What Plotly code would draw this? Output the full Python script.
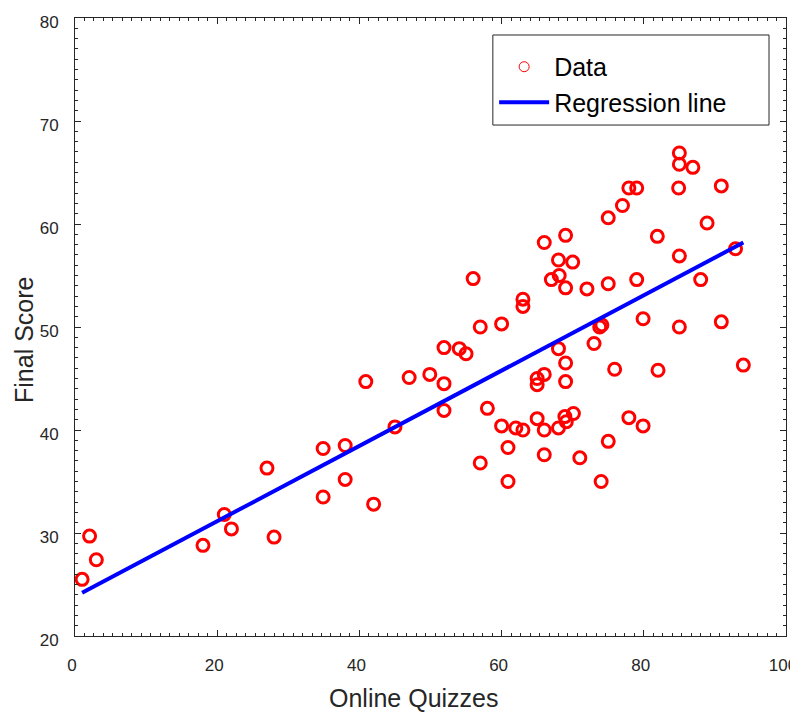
import plotly.graph_objects as go

# ---- data ----
quizzes = [1.0, 2.05, 3.0, 18.0, 21.0, 22.0, 27.0, 28.0, 34.9, 34.9,
           38.0, 38.0, 40.9, 42.0, 45.0, 47.0, 49.9, 51.9, 51.9, 51.9,
           54.05, 55.0, 56.0, 57.0, 57.0, 58.0, 60.0, 60.0, 60.9, 60.9,
           62.0, 63.0, 63.0, 63.0, 65.0, 65.0, 65.0, 66.0, 66.0, 66.0,
           66.0, 67.0, 68.1, 68.0, 68.0, 68.0, 69.0, 69.0, 69.0, 69.0,
           68.9, 69.1, 70.0, 70.1, 71.0, 72.0, 73.0, 73.8, 74.1, 74.0,
           75.0, 75.0, 75.0, 75.9, 77.0, 77.9, 79.0, 79.0, 77.9, 79.9,
           79.9, 81.9, 82.0, 85.0, 85.0, 84.9, 85.0, 85.0, 86.9, 88.0,
           88.9, 90.9, 90.9, 92.9, 94.0]
final_score = [25.5, 29.7, 27.4, 28.8, 31.8, 30.4, 36.3, 29.6, 38.2, 33.5,
               38.5, 35.2, 44.7, 32.8, 40.3, 45.1, 45.4, 44.5, 41.9, 48.0,
               47.9, 47.4, 54.7, 50.0, 36.8, 42.1, 50.3, 40.4, 38.3, 35.0,
               40.2, 52.7, 52.0, 40.0, 45.0, 44.4, 41.1, 58.2, 45.4, 40.0,
               37.6, 54.6, 55.0, 56.5, 47.9, 40.2, 58.9, 53.8, 46.5, 44.7,
               41.3, 40.8, 56.3, 41.6, 37.3, 53.7, 48.4, 50.0, 50.2, 35.0,
               60.6, 54.2, 38.9, 45.9, 61.8, 63.5, 63.5, 54.6, 41.2, 50.8,
               40.4, 58.8, 45.8, 66.9, 65.8, 63.5, 56.9, 50.0, 65.5, 54.6,
               60.1, 63.7, 50.5, 57.6, 46.3]

reg_x = [1.0, 94.0]
reg_y = [24.2, 58.2]

x_ticks = [0, 20, 40, 60, 80, 100]
y_ticks = [20, 30, 40, 50, 60, 70, 80]

x_title = "Online Quizzes"
y_title = "Final Score"

FONT = "Liberation Sans, Arial, sans-serif"
TXT = "#262626"
AX = "#262626"
RED = "#ff0000"
BLUE = "#0000ff"

fig = go.Figure()
fig.add_trace(go.Scatter(
    x=quizzes, y=final_score, mode="markers", name="Data",
    showlegend=False,
    marker=dict(symbol="circle-open", size=12, color=RED,
                line=dict(width=3, color=RED)),
))
# legend-only entry with the thin small circle used in the reference legend
fig.add_trace(go.Scatter(
    x=[None], y=[None], mode="markers", name="Data",
    marker=dict(symbol="circle-open", size=10, color=RED,
                line=dict(width=1, color=RED)),
))
fig.add_trace(go.Scatter(
    x=reg_x, y=reg_y, mode="lines", name="Regression line",
    line=dict(color=BLUE, width=4),
))

axis_common = dict(
    showgrid=False, zeroline=False, showline=True, linecolor=AX, linewidth=1,
    mirror="ticks", ticks="inside", ticklen=6, tickwidth=1, tickcolor=AX,
    tickfont=dict(family=FONT, size=17, color=TXT), automargin=False,
    ticklabeloverflow="allow",
)

fig.update_xaxes(
    range=[0, 100], tickvals=x_ticks, ticktext=[str(v) for v in x_ticks],
    ticklabelstandoff=14, ticklabelshift=-3,
    minor=dict(ticks="inside", ticklen=3, dtick=20 / 15, tickcolor=AX),
    **axis_common,
)
fig.update_yaxes(
    range=[20, 80], tickvals=y_ticks, ticktext=[str(v) for v in y_ticks],
    ticklabelstandoff=12, ticklabelshift=4,
    minor=dict(ticks="inside", ticklen=3, dtick=1, tickcolor=AX),
    **axis_common,
)

# axis titles (placed like the reference, slightly off-centre)
fig.add_annotation(text=x_title, xref="paper", yref="paper",
                   x=0.4766, y=-0.1009, xanchor="center", yanchor="middle",
                   showarrow=False, font=dict(family=FONT, size=25, color=TXT))
fig.add_annotation(text=y_title, xref="paper", yref="paper",
                   x=-0.0727, y=0.4795, xanchor="center", yanchor="middle",
                   textangle=-90, showarrow=False,
                   font=dict(family=FONT, size=25, color=TXT))

# legend frame (reference box size)
fig.add_shape(type="rect", xref="paper", yref="paper",
              x0=0.5877, x1=0.9761, y0=0.8268, y1=0.9725,
              line=dict(color=AX, width=1), fillcolor="white", layer="above")

# the page body adds an 8px offset; the figure is sized to fit the window
fig.update_layout(
    width=790, height=705,
    margin=dict(l=67, r=12, t=10, b=77),
    paper_bgcolor="white", plot_bgcolor="white",
    font=dict(family=FONT, color=TXT),
    showlegend=True,
    legend=dict(
        x=0.5895, xanchor="left", y=0.958, yanchor="top",
        bgcolor="rgba(0,0,0,0)", borderwidth=0,
        font=dict(family=FONT, size=25, color="#000000"),
        itemwidth=50,
    ),
)

fig.write_html("out.html")
